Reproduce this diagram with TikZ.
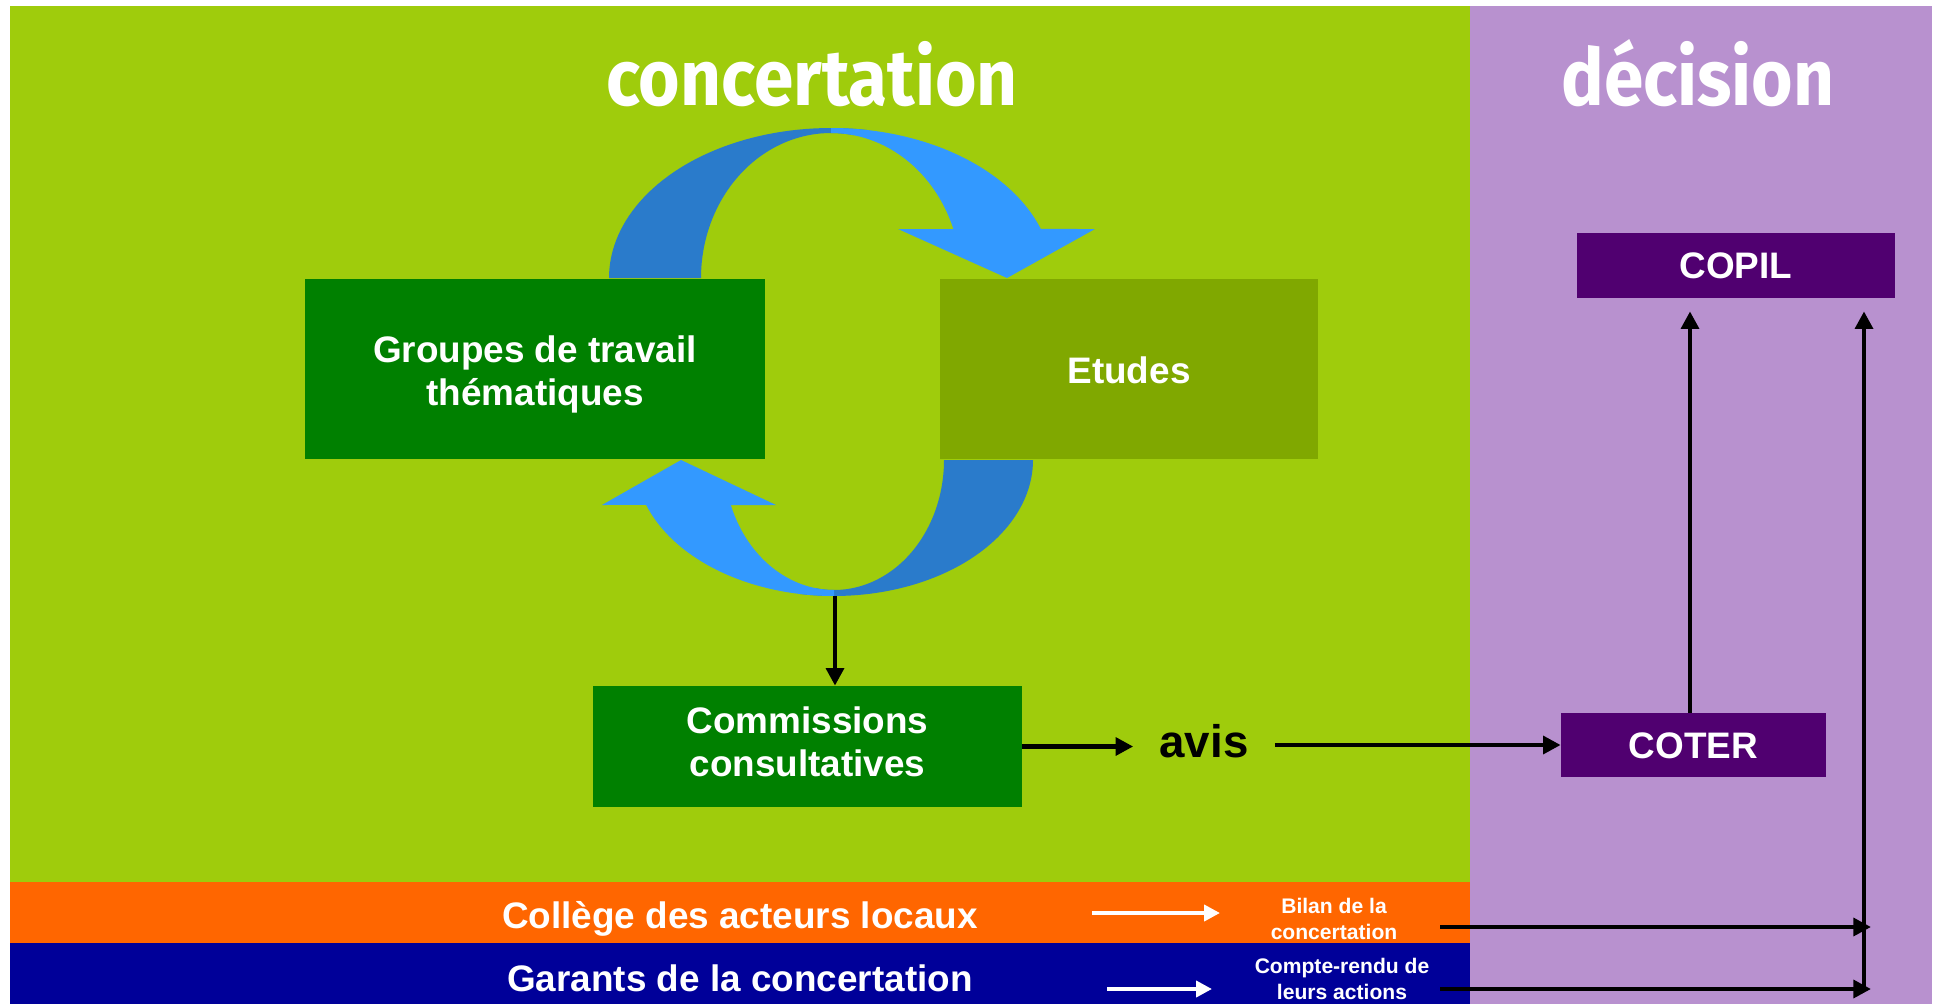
\documentclass[tikz,border=0pt]{standalone}
\usepackage{fontspec}
\setmainfont{Liberation Sans}
\newfontfamily\titlefont{Fira Sans}
\usetikzlibrary{arrows.meta}
\definecolor{bggreen}{HTML}{9FCC0C}
\definecolor{bgpurple}{HTML}{B891CF}
\definecolor{dkgreen}{HTML}{008000}
\definecolor{olivebox}{HTML}{80A800}
\definecolor{purplebox}{HTML}{500070}
\definecolor{orangeband}{HTML}{FF6600}
\definecolor{navyband}{HTML}{000099}
\definecolor{lightblue}{HTML}{3399FF}
\definecolor{darkblue}{HTML}{2A7BCB}
\tikzset{
  box/.style={inner sep=0pt},
  boxtext/.style={inner sep=0pt, text=white, align=center,
    font=\bfseries\fontsize{21}{24.5}\selectfont},
  bandtext/.style={inner sep=0pt, text=white, font=\bfseries\fontsize{21}{24}\selectfont},
  smalltext/.style={inner sep=0pt, text=white, align=center,
    font=\bfseries\fontsize{12}{14.7}\selectfont},
  titletext/.style={inner sep=0pt, text=white, anchor=base,
    font=\titlefont\bfseries\fontsize{45}{50}\selectfont},
  blackarrow/.style={draw=black, line width=2.5pt, -{Triangle[length=10pt,width=10pt]}},
  whitearrow/.style={draw=white, line width=2.2pt, -{Triangle[length=9pt,width=9pt]}}
}
\begin{document}
\begin{tikzpicture}[x=0.02cm,y=-0.02cm]
\useasboundingbox (0,0) rectangle (1934,1004);
\fill[white] (0,0) rectangle (1934,1004);
% backgrounds
\fill[bggreen] (10,6) rectangle (1470,1004);
\fill[bgpurple] (1470,6) rectangle (1932,1004);
\fill[orangeband] (10,882) rectangle (1470,943);
\fill[navyband] (10,943) rectangle (1470,1004);
% titles
\node[titletext] (tconc) at (812,105) {\scalebox{0.9}[1]{concertation}};
\node[titletext] (tdec) at (1698,105) {\scalebox{0.9}[1]{décision}};
% cycle arrows
\fill[darkblue] plot[domain=180:80,samples=50] ({831+222*cos(\x)},{278-150*sin(\x)})
  -- plot[domain=80:180,samples=50] ({831+130*cos(\x)},{278-145*sin(\x)}) -- cycle;
\fill[lightblue] plot[domain=90:19.07,samples=50] ({831+222*cos(\x)},{278-150*sin(\x)})
  -- (1095,229) -- (1007,278) -- (898,229)
  -- plot[domain=19.75:90,samples=50] ({831+130*cos(\x)},{278-145*sin(\x)}) -- cycle;
\fill[darkblue] plot[domain=0:-100,samples=50] ({834+199*cos(\x)},{460-136*sin(\x)})
  -- plot[domain=-100:0,samples=50] ({834+110*cos(\x)},{460-130*sin(\x)}) -- cycle;
\fill[lightblue] plot[domain=-90:-160.7,samples=50] ({834+199*cos(\x)},{460-136*sin(\x)})
  -- (602,505) -- (681,460) -- (776,505)
  -- plot[domain=-159.7:-90,samples=50] ({834+110*cos(\x)},{460-130*sin(\x)}) -- cycle;
% boxes
\node[box, fill=dkgreen, minimum width=9.2cm, minimum height=3.6cm] (groupes) at (535,369) {};
\node[boxtext] (groupesT) at ([yshift=-0.1cm]groupes.center) {Groupes de travail\\thématiques};
\node[box, fill=olivebox, minimum width=7.56cm, minimum height=3.6cm] (etudes) at (1129,369) {};
\node[boxtext] (etudesT) at ([yshift=-0.02cm]etudes.center) {Etudes};
\node[box, fill=dkgreen, minimum width=8.58cm, minimum height=2.42cm] (comm) at (807.5,746.5) {};
\node[boxtext] (commT) at ([yshift=0.1cm]comm.center) {Commissions\\consultatives};
\node[box, fill=purplebox, minimum width=6.36cm, minimum height=1.3cm] (copil) at (1736,265.5) {};
\node[boxtext] (copilT) at (copil.center) {COPIL};
\node[box, fill=purplebox, minimum width=5.3cm, minimum height=1.28cm] (coter) at (1693.5,745) {};
\node[boxtext] (coterT) at ([yshift=-0.02cm]coter.center) {COTER};
\node[inner ysep=0pt, inner xsep=0.52cm, anchor=base, font=\bfseries\fontsize{26}{30}\selectfont] (avis) at (1204,757) {avis};
% bands text
\node[bandtext] (college) at (740,919) {Collège des acteurs locaux};
\node[bandtext] (garants) at (740,978) {Garants de la concertation};
\node[smalltext] (bilan) at (1334,919) {Bilan de la\\concertation};
\node[smalltext] (compte) at (1342,979) {Compte-rendu de\\leurs actions};
% connectors
\coordinate (cb) at (835,596);
\draw[blackarrow] (cb) -- (cb |- comm.north);
\draw[blackarrow] (comm.east) -- (comm.east -| avis.west);
\draw[blackarrow] (avis.east |- coter.west) -- (coter.west);
\coordinate (vx) at (1690,0);
\draw[blackarrow, shorten >=0.26cm] (coter.north -| vx) -- (copil.south -| vx);
\coordinate (rv) at (1864,990);
\draw[blackarrow, shorten >=0.26cm] (rv) -- (copil.south -| rv);
\coordinate (h1s) at (1440,927);
\coordinate (h1e) at (1871,927);
\coordinate (h2s) at (1440,989);
\coordinate (h2e) at (1871,989);
\draw[blackarrow] (h1s) -- (h1e);
\draw[blackarrow] (h2s) -- (h2e);
\coordinate (w1s) at (1092,913);
\coordinate (w1e) at (1220,913);
\coordinate (w2s) at (1107,989);
\coordinate (w2e) at (1212,989);
\draw[whitearrow] (w1s) -- (w1e);
\draw[whitearrow] (w2s) -- (w2e);
\end{tikzpicture}
\end{document}
